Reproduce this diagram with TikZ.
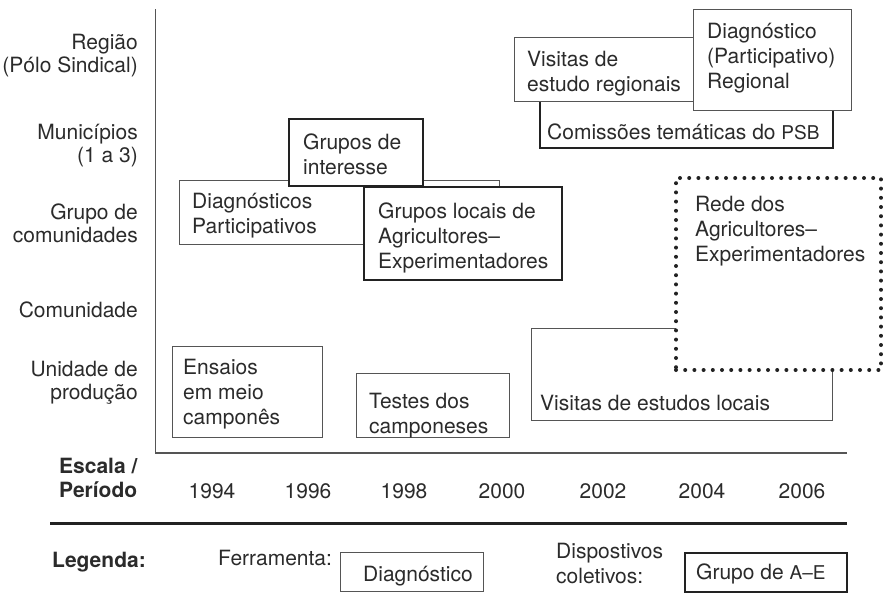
\documentclass[tikz,border=0pt]{standalone}
\usepackage{fontspec}
\setmainfont{TeX Gyre Heros}
\definecolor{txtcol}{HTML}{2B2B2B}
\definecolor{thincol}{HTML}{555555}
\definecolor{thickcol}{HTML}{222222}
\newcommand\firststrut{\rule{0pt}{16pt}}
\newcommand\smc[1]{{\fontsize{19}{20}\selectfont #1}}
\tikzset{
  boxbase/.style={anchor=north west, inner sep=0pt, outer sep=0pt, fill=white},
  thinbox/.style={boxbase, draw=thincol, line width=1pt},
  thickbox/.style={boxbase, draw=thickcol, line width=2.4pt},
  dotbox/.style={boxbase, draw=thickcol, line width=4pt, dash pattern=on 0pt off 9.2pt, line cap=round},
  txt/.style={inner sep=0pt, anchor=north west, align=left, text=txtcol,
    font=\fontsize{21}{25}\selectfont, execute at begin node=\firststrut},
  lbl/.style={txt, anchor=north east, align=right, font=\fontsize{21}{22.5}\selectfont},
  bold/.style={txt, font=\fontsize{21}{24}\selectfont\bfseries},
  year/.style={txt, anchor=north},
  axis/.style={draw=thincol, line width=1.3pt},
  sep/.style={draw=thickcol, line width=3pt},
}
\begin{document}
\begin{tikzpicture}[x=1pt, y=-1pt]
\useasboundingbox (0,0) rectangle (883,597);

% axes
\coordinate (ytop) at (155.5,9);
\coordinate (orig) at (155.5,453);
\coordinate (xend) at (847,453);
\draw[axis] (ytop) -- (orig) -- (xend);
\coordinate (sepL) at (50,523);
\coordinate (sepR) at (847,523);
\draw[sep] (sepL) -- (sepR);

% scale labels
\node[lbl] (l1) at (138,34) {Região\\(Pólo Sindical)};
\node[lbl] (l2) at (138,124) {Municípios\\(1 a 3)};
\node[lbl] (l3) at (138,204) {Grupo de\\comunidades};
\node[lbl] (l4) at (138,301) {Comunidade};
\node[lbl] (l5) at (138,361) {Unidade de\\produção};

% period labels
\node[bold] (esc) at (59,458) {Escala /\\Período};
\node[year] (y1) at (212,482) {1994};
\node[year] (y2) at (308,482) {1996};
\node[year] (y3) at (404,482) {1998};
\node[year] (y4) at (502,482) {2000};
\node[year] (y5) at (603,482) {2002};
\node[year] (y6) at (702,482) {2004};
\node[year] (y7) at (802,482) {2006};

% boxes, lower layers first
\node[thinbox, minimum width=320pt, minimum height=64pt] (dp) at (179,180) {};
\node[txt] (dpt) at (192,193) {Diagnósticos\\Participativos};
\node[thickbox, minimum width=134pt, minimum height=67pt] (gi) at (289,119) {};
\node[txt] (git) at (303,134) {Grupos de\\interesse};
\node[thickbox, minimum width=198pt, minimum height=93pt] (gl) at (364,187) {};
\node[txt] (glt) at (378,203) {Grupos locais de\\Agricultores–\\Experimentadores};

\node[thickbox, minimum width=293pt, minimum height=53pt] (cm) at (540,95) {};
\node[txt] (cmt) at (547,123) {Comissões temáticas do \smc{PSB}};
\node[thinbox, minimum width=206pt, minimum height=64pt] (vr) at (514,37) {};
\node[txt] (vrt) at (527,51) {Visitas de\\estudo regionais};
\node[thinbox, minimum width=158pt, minimum height=101pt] (dr) at (693,9) {};
\node[txt] (drt) at (707,23) {Diagnóstico\\(Participativo)\\Regional};

\node[thinbox, minimum width=301pt, minimum height=92pt] (vl) at (531,328) {};
\node[txt] (vlt) at (540,394) {Visitas de estudos locais};
\node[dotbox, minimum width=205pt, minimum height=192pt] (rd) at (676,178) {};
\node[txt] (rdt) at (695,196) {Rede dos\\Agricultores–\\Experimentadores};

\node[thinbox, minimum width=150pt, minimum height=91pt] (en) at (172,346) {};
\node[txt] (ent) at (183,359) {Ensaios\\em meio\\camponês};
\node[thinbox, minimum width=153pt, minimum height=64pt] (te) at (356,373) {};
\node[txt] (tet) at (369,393) {Testes dos\\camponeses};

% legend
\node[bold] (leg) at (52,551) {Legenda:};
\node[txt] (fer) at (218,549) {Ferramenta:};
\node[thinbox, minimum width=143pt, minimum height=39pt] (ldg) at (340,552) {};
\node[txt] (ldgt) at (363,565) {Diagnóstico};
\node[txt] (dis) at (556,543) {Dispostivos\\coletivos:};
\node[thickbox, minimum width=162pt, minimum height=39pt] (lgr) at (685,553) {};
\node[txt] (lgrt) at (696,563) {Grupo de \smc{A–E}};
\end{tikzpicture}
\end{document}
